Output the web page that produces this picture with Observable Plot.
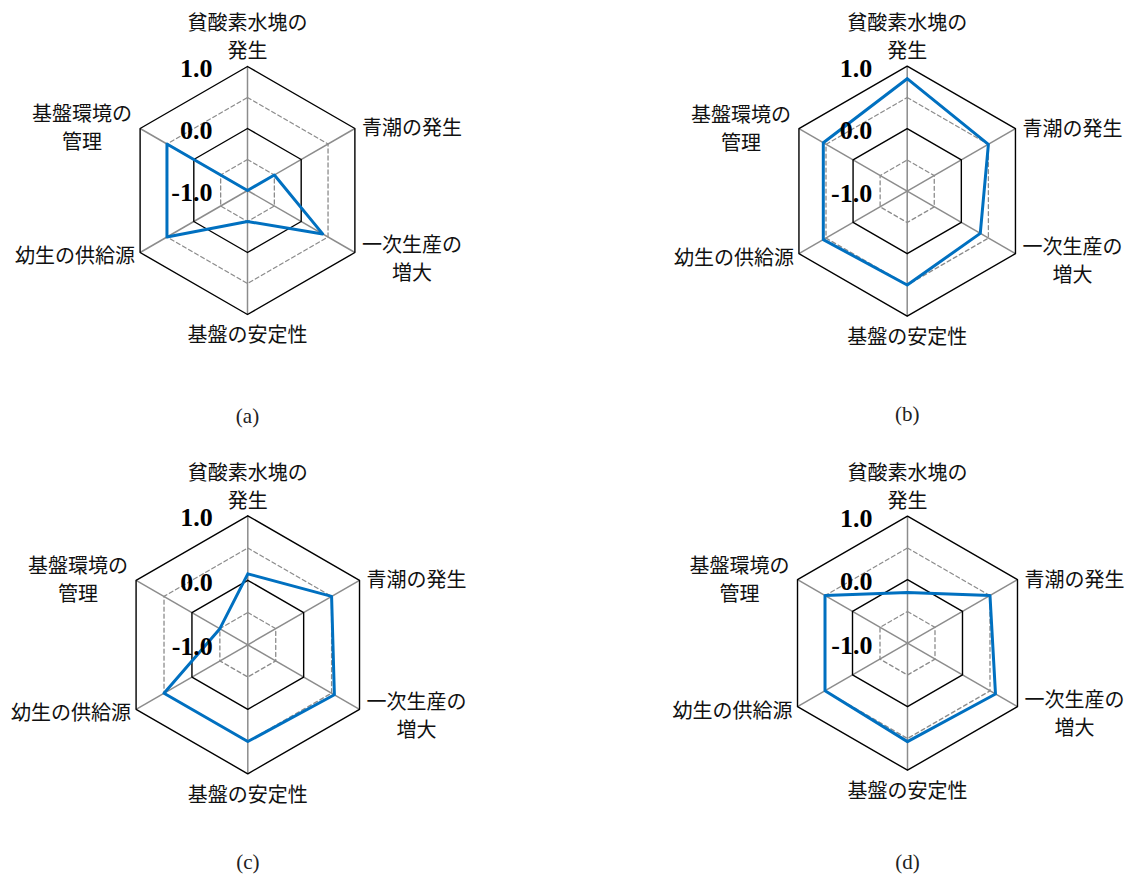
<!DOCTYPE html>
<html><head><meta charset="utf-8">
<script src="https://cdn.jsdelivr.net/npm/d3@7"></script>
<script src="https://cdn.jsdelivr.net/npm/@observablehq/plot@0.6"></script>
<style>
body{margin:0;background:#fff;}
#wrap{position:relative;width:1131px;height:884px;overflow:hidden;}
.panel{position:absolute;}
</style></head><body><div id="wrap"></div>
<script>
// ---- data ----
const axisLabels = ["貧酸素水塊の\n発生","青潮の発生","一次生産の\n増大","基盤の安定性","幼生の供給源","基盤環境の\n管理"];
const panelNames = ["(a)","(b)","(c)","(d)"];
const valuesA = [-1.0, -0.5, 0.4, -0.5, 0.5, 0.5];
const valuesB = [0.8, 0.5, 0.35, 0.5, 0.55, 0.55];
const valuesC = [0.1, 0.5, 0.55, 0.5, 0.5, -0.5];
const valuesD = [-0.2, 0.5, 0.6, 0.55, 0.5, 0.5];
const gridLevels = [-0.5, 0.0, 0.5, 1.0];
const tickValues = [1.0, 0.0, -1.0];
const tickLabels = ["1.0", "0.0", "-1.0"];
const rMin = -1.0, rMax = 1.0;

// ---- layout (pixels) ----
const layout = [
  {left: 0,   top: 0,   cx: 247,   cy: 190,   R: 124, capY: 416},
  {left: 565, top: 0,   cx: 341.7, cy: 190.7, R: 125, capY: 414},
  {left: 0,   top: 442, cx: 247.3, cy: 202.3, R: 129, capY: 420},
  {left: 565, top: 442, cx: 342,   cy: 200.7, R: 127, capY: 420}
];
const W = 566, H = 442;
const labelPos = [
  {anchor: "middle", dx: 0,   dy: -31},
  {anchor: "start",  dx: 7,   dy: -2},
  {anchor: "middle", dx: 57,  dy: 5},
  {anchor: "middle", dx: 0,   dy: 19},
  {anchor: "end",    dx: -5,  dy: 2},
  {anchor: "middle", dx: -58, dy: -2}
];

const n = axisLabels.length;
const norm = v => (v - rMin) / (rMax - rMin);
const ang = i => (i * 2 * Math.PI) / n;
const px = (i, v) => norm(v) * Math.sin(ang(i));
const py = (i, v) => norm(v) * Math.cos(ang(i));

const ringPts = gridLevels.flatMap(level =>
  d3.range(n + 1).map(k => ({level, x: px(k % n, level), y: py(k % n, level)})));
const spokes = d3.range(n).map(i => ({x1: 0, y1: 0, x2: px(i, rMax), y2: py(i, rMax)}));

const allValues = [valuesA, valuesB, valuesC, valuesD];
const wrap = document.getElementById("wrap");

allValues.forEach((vals, p) => {
  const L = layout[p];
  const series = d3.range(n + 1).map(k => ({x: px(k % n, vals[k % n]), y: py(k % n, vals[k % n])}));
  const labelMarks = axisLabels.map((lab, i) => Plot.text([lab], {
    x: px(i, rMax), y: py(i, rMax), text: d => d,
    textAnchor: labelPos[i].anchor, dx: labelPos[i].dx, dy: labelPos[i].dy,
    lineAnchor: "middle", lineHeight: 1.4,
    fontFamily: "'Noto Sans CJK JP', sans-serif", fontSize: 20, fill: "#111"
  }));
  const chart = Plot.plot({
    width: W, height: H, margin: 0,
    x: {domain: [-1, 1], range: [L.cx - L.R, L.cx + L.R], axis: null},
    y: {domain: [-1, 1], range: [L.cy + L.R, L.cy - L.R], axis: null},
    marks: [
      Plot.link(spokes, {x1: "x1", y1: "y1", x2: "x2", y2: "y2", stroke: "#8c8c8c", strokeWidth: 1.5}),
      Plot.line(ringPts.filter(d => d.level === -0.5 || d.level === 0.5), {x: "x", y: "y", z: "level", stroke: "#8c8c8c", strokeWidth: 1.3, strokeDasharray: "4,3"}),
      Plot.line(ringPts.filter(d => d.level === 0.0 || d.level === 1.0), {x: "x", y: "y", z: "level", stroke: "#000", strokeWidth: 1.4}),
      Plot.line(series, {x: "x", y: "y", stroke: "#0070C0", strokeWidth: 3, strokeLinejoin: "round"}),
      Plot.text(tickValues, {x: 0, y: v => norm(v), text: (v, i) => tickLabels[i], textAnchor: "end", dx: -35, dy: 2,
        fontFamily: "'Liberation Serif', 'Times New Roman', serif", fontWeight: "bold", fontSize: 26, fill: "#000"}),
      ...labelMarks,
      Plot.text([panelNames[p]], {frameAnchor: "top", dx: L.cx - W / 2, dy: L.capY, text: d => d, lineAnchor: "middle",
        fontFamily: "'Liberation Serif', serif", fontSize: 21, fill: "#222"})
    ]
  });
  const div = document.createElement("div");
  div.className = "panel";
  div.style.left = L.left + "px";
  div.style.top = L.top + "px";
  div.appendChild(chart);
  wrap.appendChild(div);
});
</script></body></html>
